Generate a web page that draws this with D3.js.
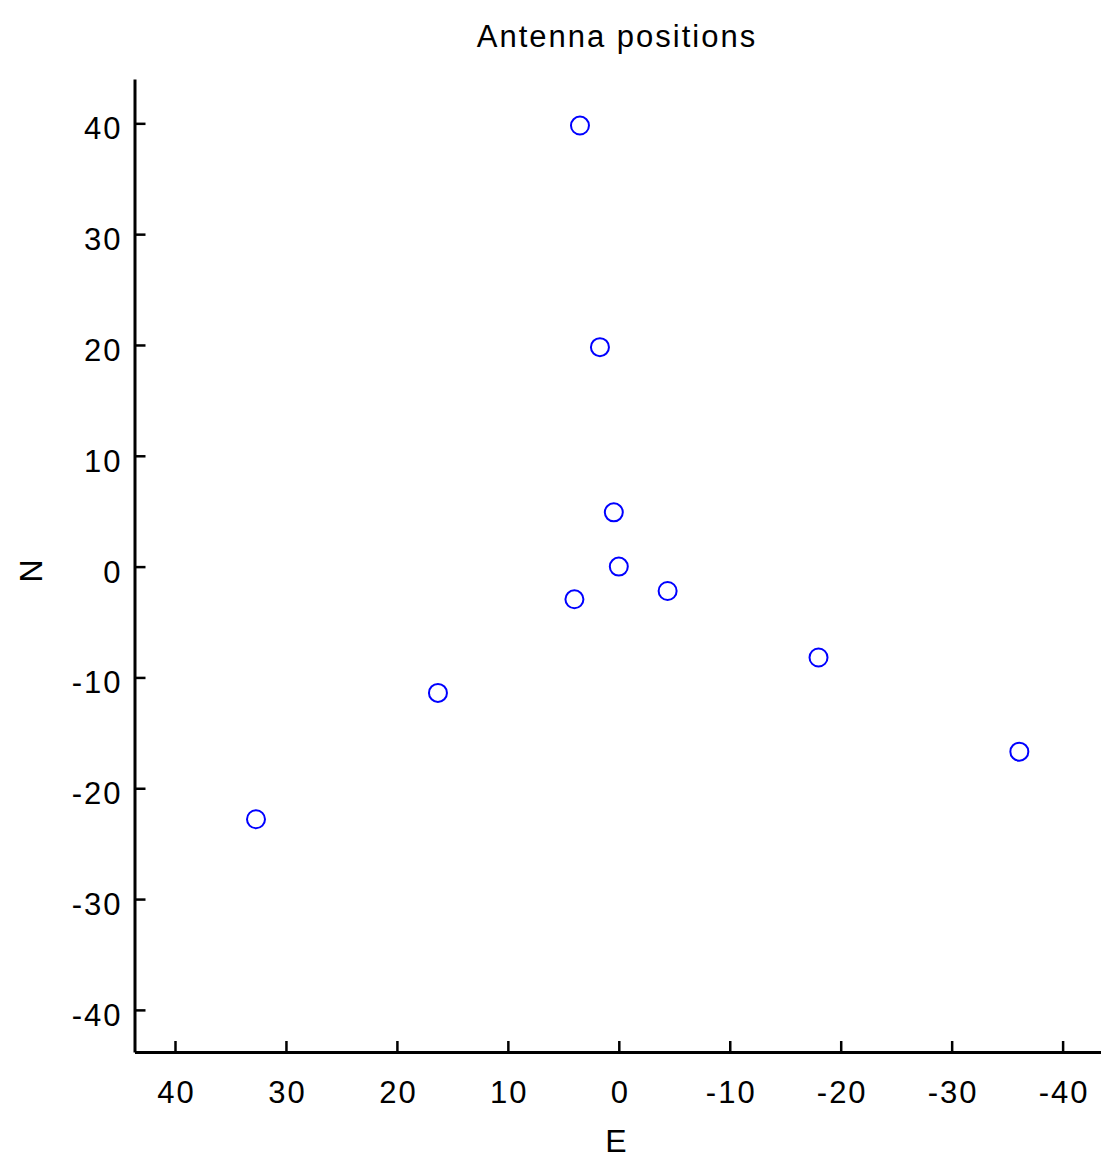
<!DOCTYPE html>
<html>
<head>
<meta charset="utf-8">
<script src="https://cdn.jsdelivr.net/npm/d3@7"></script>
<style>
  html, body { margin: 0; padding: 0; background: #fff; }
  svg text { font-family: "Liberation Sans", Arial, sans-serif; fill: #000; }
</style>
</head>
<body>
<script>
// Antenna offsets from the array centre, in metres (East, North)
const antennaE = [3.5, 1.7, 0.45, 0.0, 4.0, -4.4, -18.0, 16.3, 32.7, -36.1];
const antennaN = [39.8, 19.8, 4.9, 0.0, -2.95, -2.2, -8.2, -11.4, -22.8, -16.7];
const xTicks = [40, 30, 20, 10, 0, -10, -20, -30, -40];
const yTicks = [40, 30, 20, 10, 0, -10, -20, -30, -40];
const titleText = "Antenna positions";
const xLabel = "E";
const yLabel = "N";

const W = 1101, H = 1160;
const svg = d3.select("body").append("svg")
  .attr("width", W).attr("height", H);

// East increases to the left, as on a sky map
const x = d3.scaleLinear().domain([43.65, -43.55]).range([134.5, 1102]);
const y = d3.scaleLinear().domain([-43.8, 44]).range([1052, 79]);

const fontSize = 31;
const spacing = 2;
// plain hyphen for negative numbers
const fmt = d => String(d);

// bottom axis
const gx = svg.append("g").attr("transform", "translate(0,1052)")
  .call(d3.axisBottom(x).tickValues(xTicks).tickSizeInner(-11).tickSizeOuter(0).tickPadding(0)
    .tickFormat(fmt));
gx.select(".domain").attr("stroke", "#000").attr("stroke-width", 3);
gx.selectAll(".tick line").attr("stroke", "#000").attr("stroke-width", 2.5);
gx.selectAll(".tick text")
  .attr("font-size", fontSize).attr("letter-spacing", spacing)
  .attr("dx", spacing / 2).attr("y", 51).attr("dy", 0)
  .style("font-family", "Liberation Sans, Arial, sans-serif");

// left axis
const gy = svg.append("g").attr("transform", "translate(134.5,0)")
  .call(d3.axisLeft(y).tickValues(yTicks).tickSizeInner(-11).tickSizeOuter(0).tickPadding(12)
    .tickFormat(fmt));
gy.select(".domain").attr("stroke", "#000").attr("stroke-width", 3);
gy.selectAll(".tick line").attr("stroke", "#000").attr("stroke-width", 2.5);
gy.selectAll(".tick text")
  .attr("font-size", fontSize).attr("letter-spacing", spacing)
  .attr("dy", "0.5em")
  .style("font-family", "Liberation Sans, Arial, sans-serif");

// antenna markers
const pts = antennaE.map((e, i) => ({ e, n: antennaN[i] }));
svg.append("g").selectAll("circle").data(pts).join("circle")
  .attr("cx", d => x(d.e)).attr("cy", d => y(d.n))
  .attr("r", 9)
  .attr("fill", "none").attr("stroke", "#0000ff").attr("stroke-width", 2);

// title and axis labels
svg.append("text").attr("x", 616 + spacing / 2).attr("y", 47)
  .attr("text-anchor", "middle").attr("font-size", fontSize).attr("letter-spacing", spacing)
  .text(titleText);
svg.append("text").attr("x", 616).attr("y", 1152)
  .attr("text-anchor", "middle").attr("font-size", 32)
  .text(xLabel);
svg.append("text").attr("transform", "translate(42,571) rotate(-90)")
  .attr("text-anchor", "middle").attr("font-size", 32)
  .text(yLabel);
</script>
</body>
</html>
